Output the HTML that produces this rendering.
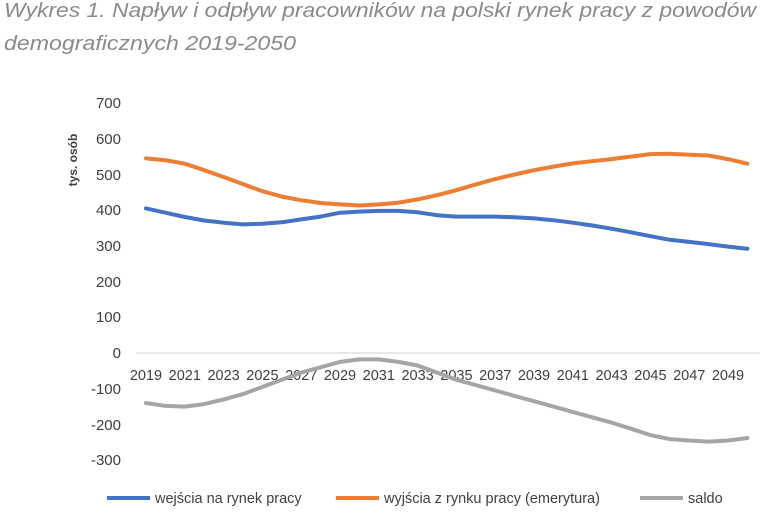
<!DOCTYPE html>
<html><head><meta charset="utf-8"><style>
body{margin:0;background:#fff;}
svg{display:block;font-family:"Liberation Sans",sans-serif;}
</style></head><body>
<svg width="778" height="517" xmlns="http://www.w3.org/2000/svg">
<text x="4" y="17" font-size="20.5" font-style="italic" fill="#8a8a8a" textLength="752" lengthAdjust="spacingAndGlyphs">Wykres 1. Napływ i odpływ pracowników na polski rynek pracy z powodów</text>
<text x="4" y="50" font-size="20.5" font-style="italic" fill="#8a8a8a" textLength="292" lengthAdjust="spacingAndGlyphs">demograficznych 2019-2050</text>
<g font-size="15" fill="#404040" text-anchor="end">
<text x="121" y="108">700</text><text x="121" y="144">600</text><text x="121" y="180">500</text>
<text x="121" y="215">400</text><text x="121" y="251">300</text><text x="121" y="287">200</text>
<text x="121" y="322">100</text><text x="121" y="358">0</text><text x="121" y="394">-100</text>
<text x="121" y="430">-200</text><text x="121" y="465">-300</text>
</g>
<text transform="translate(77,160) rotate(-90)" font-size="12" font-weight="bold" fill="#404040" text-anchor="middle">tys. osób</text>
<line x1="136" y1="353" x2="760" y2="353" stroke="#d0d0d0" stroke-width="1"/>
<g font-size="14.5" fill="#404040" text-anchor="middle">
<text x="146" y="380">2019</text><text x="184.8" y="380">2021</text><text x="223.6" y="380">2023</text><text x="262.4" y="380">2025</text><text x="301.2" y="380">2027</text><text x="340" y="380">2029</text><text x="378.8" y="380">2031</text><text x="417.6" y="380">2033</text><text x="456.4" y="380">2035</text><text x="495.2" y="380">2037</text><text x="534" y="380">2039</text><text x="572.8" y="380">2041</text><text x="611.6" y="380">2043</text><text x="650.4" y="380">2045</text><text x="689.2" y="380">2047</text><text x="728" y="380">2049</text>
</g>
<g fill="none" stroke-width="4" stroke-linejoin="round" stroke-linecap="round">
<polyline stroke="#4472c4" points="146,208.4 165.4,212.7 184.8,217 204.2,220.5 223.6,222.7 243,224.4 262.4,223.7 281.8,222.3 301.2,219.4 320.6,216.6 340,212.7 359.4,211.6 378.8,210.9 398.2,210.9 417.6,212.3 437,215.2 456.4,216.6 475.8,216.6 495.2,216.6 514.6,217.3 534,218.4 553.4,220.2 572.8,222.7 592.2,225.5 611.6,228.7 631,232.3 650.4,236.2 669.8,239.8 689.2,241.9 708.6,244.1 728,246.6 747.4,248.7"/>
<polyline stroke="#ed7d31" points="146,158.4 165.4,160.2 184.8,163.7 204.2,170.2 223.6,177 243,184.1 262.4,191.2 281.8,196.6 301.2,200.2 320.6,203 340,204.4 359.4,205.5 378.8,204.4 398.2,202.7 417.6,199.4 437,195.2 456.4,190.2 475.8,184.4 495.2,179.1 514.6,174.5 534,170.2 553.4,166.6 572.8,163.4 592.2,161.2 611.6,159.1 631,156.6 650.4,154.1 669.8,153.7 689.2,154.8 708.6,155.5 728,159.1 747.4,163.7"/>
<polyline stroke="#a5a5a5" points="146,403 165.4,405.9 184.8,406.6 204.2,404.1 223.6,399.4 243,394.1 262.4,386.9 281.8,379.8 301.2,372.6 320.6,367.3 340,361.9 359.4,359.4 378.8,359.4 398.2,361.9 417.6,365.5 437,372.6 456.4,379.8 475.8,385.1 495.2,390.5 514.6,395.9 534,401.2 553.4,406.6 572.8,411.9 592.2,417.3 611.6,422.6 631,428.7 650.4,435.1 669.8,439.1 689.2,440.5 708.6,441.6 728,440.5 747.4,438"/>
</g>
<g font-size="14.5" fill="#404040">
<line x1="107" y1="498" x2="150" y2="498" stroke="#4472c4" stroke-width="4"/><text x="155" y="503">wejścia na rynek pracy</text>
<line x1="336" y1="498" x2="379" y2="498" stroke="#ed7d31" stroke-width="4"/><text x="384" y="503">wyjścia z rynku pracy (emerytura)</text>
<line x1="640" y1="498" x2="683" y2="498" stroke="#a5a5a5" stroke-width="4"/><text x="688" y="503">saldo</text>
</g>
</svg>
</body></html>
